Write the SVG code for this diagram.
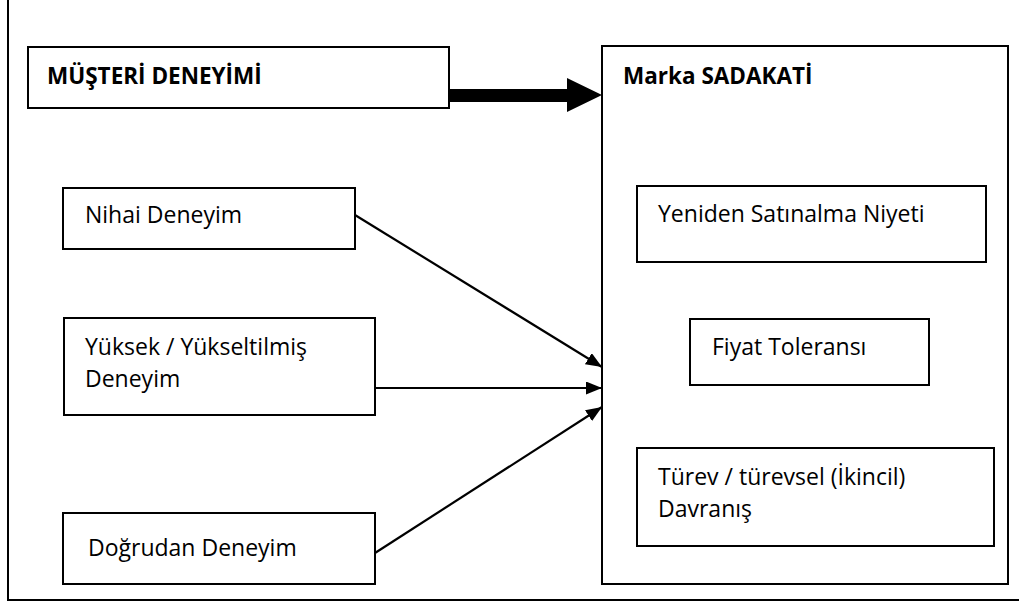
<svg xmlns="http://www.w3.org/2000/svg" width="1019" height="606" viewBox="0 0 1019 606">
<defs>
<style>
.box{fill:#fff;stroke:#000;stroke-width:2}
.t{font-family:"Open Sans","Liberation Sans",sans-serif;font-size:23px;fill:#000}
.b{font-weight:bold;font-size:22.5px}
.c{stroke:#000;stroke-width:2.2;fill:none}
</style>
<marker id="ah" markerUnits="userSpaceOnUse" markerWidth="18" markerHeight="14" refX="16" refY="6.5" orient="auto">
<path d="M0,0 L16,6.5 L0,13 z" fill="#000"/>
</marker>
</defs>
<rect width="1019" height="606" fill="#fff"/>
<path d="M8,0 V600 H1019" fill="none" stroke="#000" stroke-width="2"/>
<g id="musteri-deneyimi">
<rect class="box" x="28" y="47" width="421" height="61"/>
<text class="t b" x="47" y="84">MÜŞTERİ DENEYİMİ</text>
</g>
<g id="marka-sadakati">
<rect class="box" x="602" y="46" width="406" height="538"/>
<text class="t b" x="623" y="84">Marka SADAKATİ</text>
</g>
<g id="nihai-deneyim">
<rect class="box" x="63" y="188" width="292" height="61"/>
<text class="t" x="85" y="223">Nihai Deneyim</text>
</g>
<g id="yuksek-deneyim">
<rect class="box" x="64" y="318" width="311" height="97"/>
<text class="t" x="85" y="355">Yüksek / Yükseltilmiş</text>
<text class="t" x="85" y="387">Deneyim</text>
</g>
<g id="dogrudan-deneyim">
<rect class="box" x="63" y="513" width="312" height="71"/>
<text class="t" x="88" y="556">Doğrudan Deneyim</text>
</g>
<g id="yeniden-satinalma">
<rect class="box" x="637" y="186" width="349" height="76"/>
<text class="t" x="658" y="222">Yeniden Satınalma Niyeti</text>
</g>
<g id="fiyat-toleransi">
<rect class="box" x="690" y="319" width="239" height="66"/>
<text class="t" x="712" y="355">Fiyat Toleransı</text>
</g>
<g id="turev-davranis">
<rect class="box" x="637" y="448" width="357" height="98"/>
<text class="t" x="658" y="485">Türev / türevsel (İkincil)</text>
<text class="t" x="658" y="517">Davranış</text>
</g>
<g id="connectors">
<path d="M449,89 H567 V78 L602,95 L567,112 V102 H449 z" fill="#000"/>
<line class="c" x1="355" y1="215" x2="602" y2="367" marker-end="url(#ah)"/>
<line class="c" x1="375" y1="388" x2="602" y2="388" marker-end="url(#ah)"/>
<line class="c" x1="375" y1="553" x2="602" y2="407" marker-end="url(#ah)"/>
</g>
</svg>
